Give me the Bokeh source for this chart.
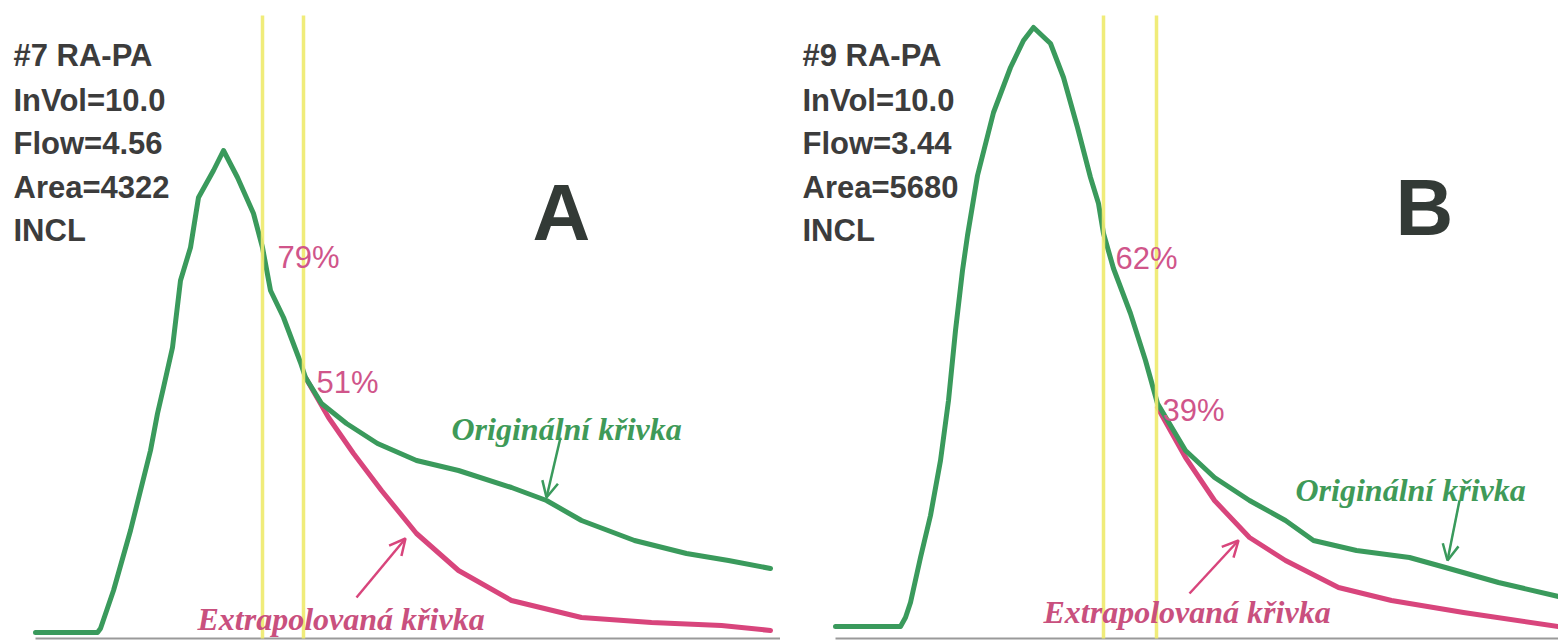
from bokeh.plotting import figure
from bokeh.layouts import row
from bokeh.models import Range1d, Arrow, OpenHead
from bokeh.core.properties import value
from bokeh.embed import file_html
from bokeh.resources import INLINE

# ---------------- data (time units, signal = height above baseline) ----------------
# Panel A  (#7 RA-PA)
a_orig_t = [35, 60, 97, 100, 113, 130, 150, 157, 163, 172, 180, 190, 198, 213, 223, 237, 253,
            262, 270, 283, 300, 305, 321, 346, 377, 416, 458, 511, 546, 581, 634, 686, 728, 770]
a_orig_s = [8, 8, 8, 12, 50, 110, 190, 227, 253, 293, 360, 393, 443, 470, 490, 463, 427,
            393, 350, 323, 278, 263, 237, 217, 197, 180, 170, 153, 140, 120, 100, 87, 80, 72]
a_extr_t = [305, 328, 353, 381, 416, 458, 511, 581, 651, 721, 770]
a_extr_s = [263, 223, 187, 150, 107, 70, 40, 23, 18, 15, 10]
a_marks = [262, 303]
a_pct = ["79%", "51%"]
a_info = ["#7 RA-PA", "InVol=10.0", "Flow=4.56", "Area=4322", "INCL"]

# Panel B  (#9 RA-PA)
b_orig_t = [835, 870, 900, 905, 910, 920, 930, 940, 948, 955, 962, 967, 977, 993, 1010, 1023, 1033,
            1050, 1063, 1077, 1090, 1098, 1103, 1113, 1130, 1145, 1157, 1185, 1214, 1249, 1285,
            1313, 1356, 1409, 1445, 1498, 1558]
b_orig_s = [14, 14, 14, 23, 38, 83, 125, 180, 240, 310, 370, 405, 465, 528, 573, 600, 613,
            597, 563, 513, 463, 437, 407, 372, 327, 280, 237, 190, 163, 140, 120,
            100, 90, 83, 73, 58, 44]
b_extr_t = [1157, 1185, 1214, 1249, 1285, 1338, 1391, 1463, 1558]
b_extr_s = [233, 183, 140, 103, 80, 53, 40, 28, 14]
b_marks = [1103, 1156]
b_pct = ["62%", "39%"]
b_info = ["#9 RA-PA", "InVol=10.0", "Flow=3.44", "Area=5680", "INCL"]

orig_label = "Originální křivka"
extr_label = "Extrapolovaná křivka"

# ---------------- styles ----------------
GREEN = "#3a9a5c"
PINK = "#d8457c"
YELLOW = "#eeea6c"
DARK = "#3c3c3c"
PCT = "#d0558a"
H = 640


def panel(x0, x1, ot, os_, et, es, marks, pct, pct_xy, info, info_x, letter, letter_xy,
          base_x0, orig_xy, extr_xy, g_arrow, r_arrow):
    p = figure(width=x1 - x0, height=H, x_range=Range1d(x0, x1), y_range=Range1d(0, H),
               output_backend="svg", toolbar_location=None, min_border=0,
               outline_line_color=None, background_fill_color="white",
               border_fill_color="white")
    p.axis.visible = False
    p.xgrid.visible = False
    p.ygrid.visible = False

    # baseline
    p.segment(x0=[base_x0], y0=[2], x1=[x1], y1=[2], line_color="#9a9a9a", line_width=2)

    # curves
    p.line(et, es, line_color=PINK, line_width=5, line_join="round", line_cap="round")
    p.line(ot, os_, line_color=GREEN, line_width=5, line_join="round", line_cap="round")

    # marker lines
    p.segment(x0=marks, y0=[2] * len(marks), x1=marks, y1=[625] * len(marks),
              line_color=YELLOW, line_width=3.5, line_alpha=0.9)

    # percentage labels
    p.text(x=[xy[0] for xy in pct_xy], y=[xy[1] for xy in pct_xy], text=pct,
           text_font=value("Liberation Sans"), text_font_size="31px",
           text_color=PCT, text_baseline="alphabetic", text_align="left")

    # info block
    p.text(x=[info_x] * len(info), y=[585, 540, 497, 453, 410], text=info,
           text_font=value("Liberation Sans"), text_font_size="31px", text_font_style="bold",
           text_color=DARK, text_baseline="alphabetic", text_align="left")

    # panel letter
    p.text(x=[letter_xy[0]], y=[letter_xy[1]], text=[letter],
           text_font=value("Liberation Sans"), text_font_size="80px", text_font_style="bold",
           text_color="#333a36", text_baseline="alphabetic", text_align="center")

    # curve labels
    p.text(x=[orig_xy[0]], y=[orig_xy[1]], text=[orig_label],
           text_font=value("Liberation Serif"), text_font_size="32px",
           text_font_style="bold italic", text_color="#3f9a58",
           text_baseline="alphabetic", text_align="left")
    p.text(x=[extr_xy[0]], y=[extr_xy[1]], text=[extr_label],
           text_font=value("Liberation Serif"), text_font_size="32px",
           text_font_style="bold italic", text_color="#c9507e",
           text_baseline="alphabetic", text_align="left")

    # arrows
    p.add_layout(Arrow(end=OpenHead(size=16, line_color=GREEN, line_width=2.5),
                       x_start=g_arrow[0], y_start=g_arrow[1], x_end=g_arrow[2], y_end=g_arrow[3],
                       line_color=GREEN, line_width=2.5))
    p.add_layout(Arrow(end=OpenHead(size=16, line_color=PINK, line_width=2.5),
                       x_start=r_arrow[0], y_start=r_arrow[1], x_end=r_arrow[2], y_end=r_arrow[3],
                       line_color=PINK, line_width=2.5))
    return p


pA = panel(0, 780, a_orig_t, a_orig_s, a_extr_t, a_extr_s, a_marks, a_pct,
           [(277, 383), (316, 258)], a_info, 13, "A", (561, 428), 35,
           (451, 212), (197, 22), (560, 203, 546, 143), (356, 43, 405, 102))
pB = panel(780, 1558, b_orig_t, b_orig_s, b_extr_t, b_extr_s, b_marks, b_pct,
           [(1115, 382), (1162, 230)], b_info, 802, "B", (1424, 433), 835,
           (1295, 151), (1043, 29), (1459, 140, 1447, 80), (1189, 47, 1238, 100))

layout = row(pA, pB, spacing=0)
open("out.html", "w").write(file_html(layout, INLINE))
